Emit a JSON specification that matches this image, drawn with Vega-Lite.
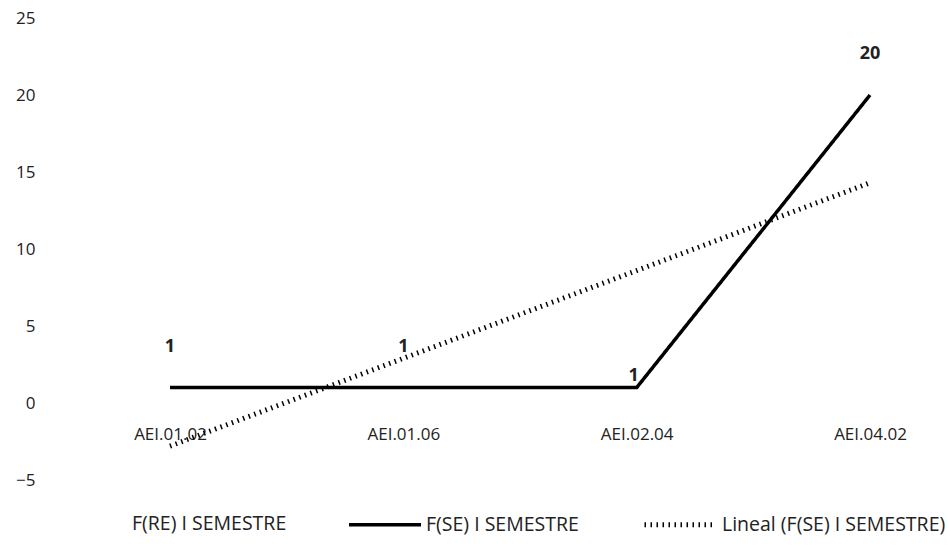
{
  "$schema": "https://vega.github.io/schema/vega-lite/v6.json",
  "width": 902,
  "height": 462,
  "autosize": {"type": "none"},
  "padding": {"left": 45, "top": 18, "right": 0, "bottom": 69},
  "background": "white",
  "config": {
    "view": {"stroke": null},
    "font": "Open Sans",
    "axis": {"labelFont": "Open Sans", "labelFontSize": 17, "labelColor": "#222", "grid": false, "domain": false, "ticks": false},
    "legend": {"labelFont": "Open Sans", "labelFontSize": 19.5, "labelColor": "#222"}
  },
  "data": {
    "values": [
      {"categoria": "AEI.01.02", "serie": "F(SE) I SEMESTRE", "valor": 1},
      {"categoria": "AEI.01.06", "serie": "F(SE) I SEMESTRE", "valor": 1},
      {"categoria": "AEI.02.04", "serie": "F(SE) I SEMESTRE", "valor": 1},
      {"categoria": "AEI.04.02", "serie": "F(SE) I SEMESTRE", "valor": 20},
      {"categoria": "AEI.01.02", "serie": "Lineal (F(SE) I SEMESTRE)", "valor": -2.8},
      {"categoria": "AEI.01.06", "serie": "Lineal (F(SE) I SEMESTRE)", "valor": 2.9},
      {"categoria": "AEI.02.04", "serie": "Lineal (F(SE) I SEMESTRE)", "valor": 8.6},
      {"categoria": "AEI.04.02", "serie": "Lineal (F(SE) I SEMESTRE)", "valor": 14.3}
    ]
  },
  "encoding": {
    "x": {
      "field": "categoria",
      "type": "ordinal",
      "sort": null,
      "title": null,
      "scale": {"type": "point", "range": [125, 825], "padding": 0},
      "axis": {"labelAngle": 0, "offset": -76, "labelPadding": 22}
    },
    "y": {
      "field": "valor",
      "type": "quantitative",
      "title": null,
      "scale": {"domain": [-5, 25], "nice": false},
      "axis": {"values": [-5, 0, 5, 10, 15, 20, 25], "labelPadding": 10}
    }
  },
  "layer": [
    {
      "mark": {"type": "line"},
      "encoding": {
        "detail": {"field": "serie"},
        "color": {
          "field": "serie",
          "type": "nominal",
          "scale": {
            "domain": ["F(RE) I SEMESTRE", "F(SE) I SEMESTRE", "Lineal (F(SE) I SEMESTRE)"],
            "range": ["white", "black", "black"]
          },
          "legend": {
            "title": null,
            "orient": "none",
            "legendX": 10,
            "legendY": 468,
            "direction": "horizontal",
            "symbolType": "stroke",
            "symbolSize": 5184,
            "columnPadding": 55,
            "labelLimit": 400,
            "labelOffset": 3
          }
        },
        "strokeDash": {
          "field": "serie",
          "type": "nominal",
          "scale": {
            "domain": ["F(RE) I SEMESTRE", "F(SE) I SEMESTRE", "Lineal (F(SE) I SEMESTRE)"],
            "range": [[1, 0], [1, 0], [1.5, 4.5]]
          },
          "legend": null
        },
        "strokeWidth": {
          "field": "serie",
          "type": "nominal",
          "scale": {
            "domain": ["F(RE) I SEMESTRE", "F(SE) I SEMESTRE", "Lineal (F(SE) I SEMESTRE)"],
            "range": [2, 5, 1.8]
          },
          "legend": null
        }
      }
    },
    {
      "transform": [
        {"filter": "datum.serie == 'F(SE) I SEMESTRE' && datum.categoria != 'AEI.02.04'"}
      ],
      "mark": {"type": "text", "dy": -41, "fontSize": 18, "fontWeight": "bold", "color": "#222"},
      "encoding": {"text": {"field": "valor", "type": "quantitative"}}
    },
    {
      "transform": [
        {"filter": "datum.serie == 'F(SE) I SEMESTRE' && datum.categoria == 'AEI.02.04'"}
      ],
      "mark": {"type": "text", "dy": -12, "dx": -3, "fontSize": 18, "fontWeight": "bold", "color": "#222"},
      "encoding": {"text": {"field": "valor", "type": "quantitative"}}
    }
  ]
}
